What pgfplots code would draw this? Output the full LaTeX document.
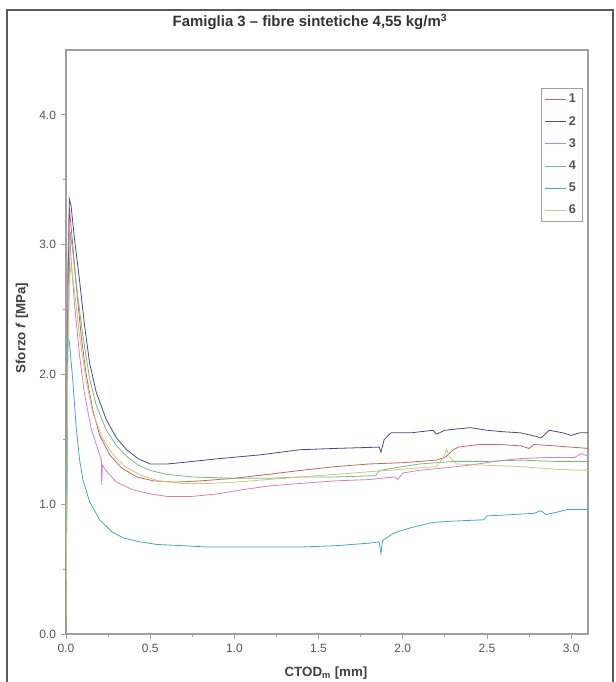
\documentclass[border=0pt]{standalone}
\usepackage{pgfplots}
\pgfplotsset{compat=1.18}
\usepackage{fontspec}
\setmainfont{Liberation Sans}

\definecolor{c1}{RGB}{200,100,92}
\definecolor{c2}{RGB}{66,78,132}
\definecolor{c3}{RGB}{218,128,182}
\definecolor{c4}{RGB}{118,188,126}
\definecolor{c5}{RGB}{66,166,204}
\definecolor{c6}{RGB}{204,200,128}
\definecolor{axgray}{RGB}{160,160,160}
\definecolor{txtgray}{RGB}{85,85,85}

\begin{document}
\begin{tikzpicture}
% page size: 616x682 px at 0.75pt/px, axis box lower left at (0,0)
\useasboundingbox (-49.5pt,-36pt) rectangle (412.5pt,475.5pt);
\draw[line width=1.3pt, black!65] (-44.25pt,-40pt) -- (-44.25pt,468pt) -- (410.25pt,468pt) -- (410.25pt,-40pt);

\begin{axis}[
  scale only axis,
  width=391.5pt, height=438pt,
  xmin=0, xmax=3.1, ymin=0, ymax=4.5,
  xtick={0,0.5,...,3.0}, ytick={0,1,...,4},
  minor x tick num=1, minor y tick num=1,
  xticklabel style={/pgf/number format/.cd, fixed, fixed zerofill, precision=1},
  yticklabel style={/pgf/number format/.cd, fixed, fixed zerofill, precision=1},
  /pgf/number format/assume math mode=true,
  ticklabel style={font=\fontsize{9}{10}\selectfont, text=txtgray},
  tick style={axgray, line width=0.6pt},
  major tick length=4pt, minor tick length=2.5pt,
  tick align=outside,
  xtick pos=bottom, ytick pos=left,
  axis line style={axgray, line width=0.9pt},
  legend style={at={(rel axis cs:0.989,0.935)}, anchor=north east,
    draw=axgray, font=\bfseries\fontsize{9.5}{10}\selectfont, text=txtgray,
    row sep=4.5pt, inner sep=2.5pt},
  legend cell align=left,
  legend image code/.code={\draw[#1, line width=0.6pt] (0cm,0cm) -- (0.55cm,0cm);},
  every axis plot/.append style={line width=0.6pt},
]
\addplot[c1] coordinates {
(0,0) (0.01,2.7) (0.02,3.28) (0.04,3.0) (0.06,2.7) (0.09,2.3) (0.12,2.0)
(0.16,1.72) (0.2,1.53) (0.26,1.38) (0.33,1.28) (0.42,1.21) (0.52,1.18)
(0.65,1.17) (0.8,1.18) (1.0,1.20) (1.2,1.23) (1.39,1.26) (1.6,1.29)
(1.8,1.31) (2.0,1.32) (2.2,1.34) (2.25,1.36) (2.3,1.42) (2.33,1.44)
(2.45,1.46) (2.58,1.46) (2.7,1.45) (2.75,1.43) (2.78,1.46) (2.9,1.45)
(3.0,1.44) (3.1,1.43)};
\addlegendentry{1}
\addplot[c2] coordinates {
(0,0) (0.01,2.5) (0.02,3.35) (0.03,3.3) (0.05,3.05) (0.08,2.73) (0.11,2.38)
(0.14,2.09) (0.18,1.86) (0.24,1.65) (0.30,1.51) (0.36,1.42) (0.43,1.35)
(0.5,1.31) (0.6,1.31) (0.68,1.32) (0.9,1.35) (1.15,1.38) (1.39,1.42)
(1.6,1.43) (1.86,1.44) (1.87,1.40) (1.89,1.50) (1.93,1.55) (2.05,1.55)
(2.18,1.57) (2.2,1.54) (2.25,1.57) (2.4,1.59) (2.5,1.57) (2.58,1.56)
(2.7,1.55) (2.8,1.52) (2.82,1.51) (2.87,1.57) (2.95,1.55) (3.0,1.53)
(3.05,1.55) (3.1,1.55)};
\addlegendentry{2}
\addplot[c3] coordinates {
(0,0) (0.008,2.5) (0.015,3.2) (0.03,2.9) (0.05,2.55) (0.08,2.15) (0.11,1.85)
(0.15,1.58) (0.2,1.38) (0.21,1.34) (0.212,1.15) (0.216,1.30) (0.25,1.24)
(0.3,1.17) (0.4,1.11) (0.5,1.08) (0.6,1.06) (0.75,1.06) (0.9,1.08)
(1.04,1.11) (1.2,1.14) (1.39,1.16) (1.6,1.18) (1.8,1.19) (1.95,1.21)
(1.97,1.19) (2.0,1.24) (2.09,1.26) (2.25,1.28) (2.39,1.30) (2.55,1.33)
(2.68,1.35) (2.85,1.36) (3.02,1.36) (3.06,1.39) (3.1,1.37)};
\addlegendentry{3}
\addplot[c4] coordinates {
(0,0) (0.01,2.2) (0.025,3.1) (0.04,2.95) (0.07,2.6) (0.1,2.3) (0.14,1.97)
(0.18,1.76) (0.24,1.57) (0.3,1.45) (0.36,1.37) (0.43,1.30) (0.5,1.26)
(0.6,1.23) (0.75,1.21) (1.0,1.20) (1.2,1.20) (1.39,1.21) (1.6,1.21)
(1.84,1.22) (1.86,1.26) (1.95,1.28) (2.1,1.31) (2.3,1.33) (2.5,1.33)
(2.7,1.34) (2.9,1.33) (3.1,1.33)};
\addlegendentry{4}
\addplot[c5] coordinates {
(0,0) (0.005,1.5) (0.01,2.3) (0.02,2.25) (0.04,1.96) (0.06,1.6) (0.08,1.35)
(0.1,1.19) (0.14,1.02) (0.2,0.88) (0.27,0.79) (0.34,0.74) (0.44,0.71)
(0.54,0.69) (0.7,0.68) (0.84,0.67) (1.1,0.67) (1.39,0.67) (1.6,0.68)
(1.8,0.70) (1.86,0.71) (1.87,0.62) (1.88,0.72) (1.95,0.78) (2.05,0.82)
(2.18,0.86) (2.3,0.87) (2.48,0.88) (2.5,0.91) (2.65,0.92) (2.78,0.93)
(2.82,0.95) (2.85,0.92) (2.92,0.94) (2.98,0.96) (3.1,0.96)};
\addlegendentry{5}
\addplot[c6] coordinates {
(0,0) (0.01,2.0) (0.02,2.7) (0.03,2.85) (0.05,2.65) (0.08,2.3) (0.12,1.95)
(0.16,1.70) (0.22,1.50) (0.28,1.38) (0.35,1.29) (0.45,1.22) (0.55,1.18)
(0.7,1.16) (0.85,1.16) (1.0,1.17) (1.2,1.19) (1.39,1.21) (1.6,1.23)
(1.8,1.25) (2.0,1.27) (2.2,1.29) (2.24,1.36) (2.26,1.42) (2.28,1.36)
(2.32,1.31) (2.5,1.30) (2.7,1.29) (2.9,1.27) (3.1,1.26)};
\addlegendentry{6}
\end{axis}

\node[font=\bfseries\fontsize{11.2}{13}\selectfont, text=black!80] at (183pt,459pt)
  {Famiglia 3 -- fibre sintetiche 4,55 kg/m\textsuperscript{3}};
\node[rotate=90, font=\bfseries\fontsize{10}{12}\selectfont, text=black!75] at (-33pt,229.5pt)
  {Sforzo \textit{f} [MPa]};
\node[font=\bfseries\fontsize{10}{12}\selectfont, text=black!75] at (195pt,-29pt)
  {CTOD\textsubscript{m} [mm]};
\end{tikzpicture}
\end{document}
